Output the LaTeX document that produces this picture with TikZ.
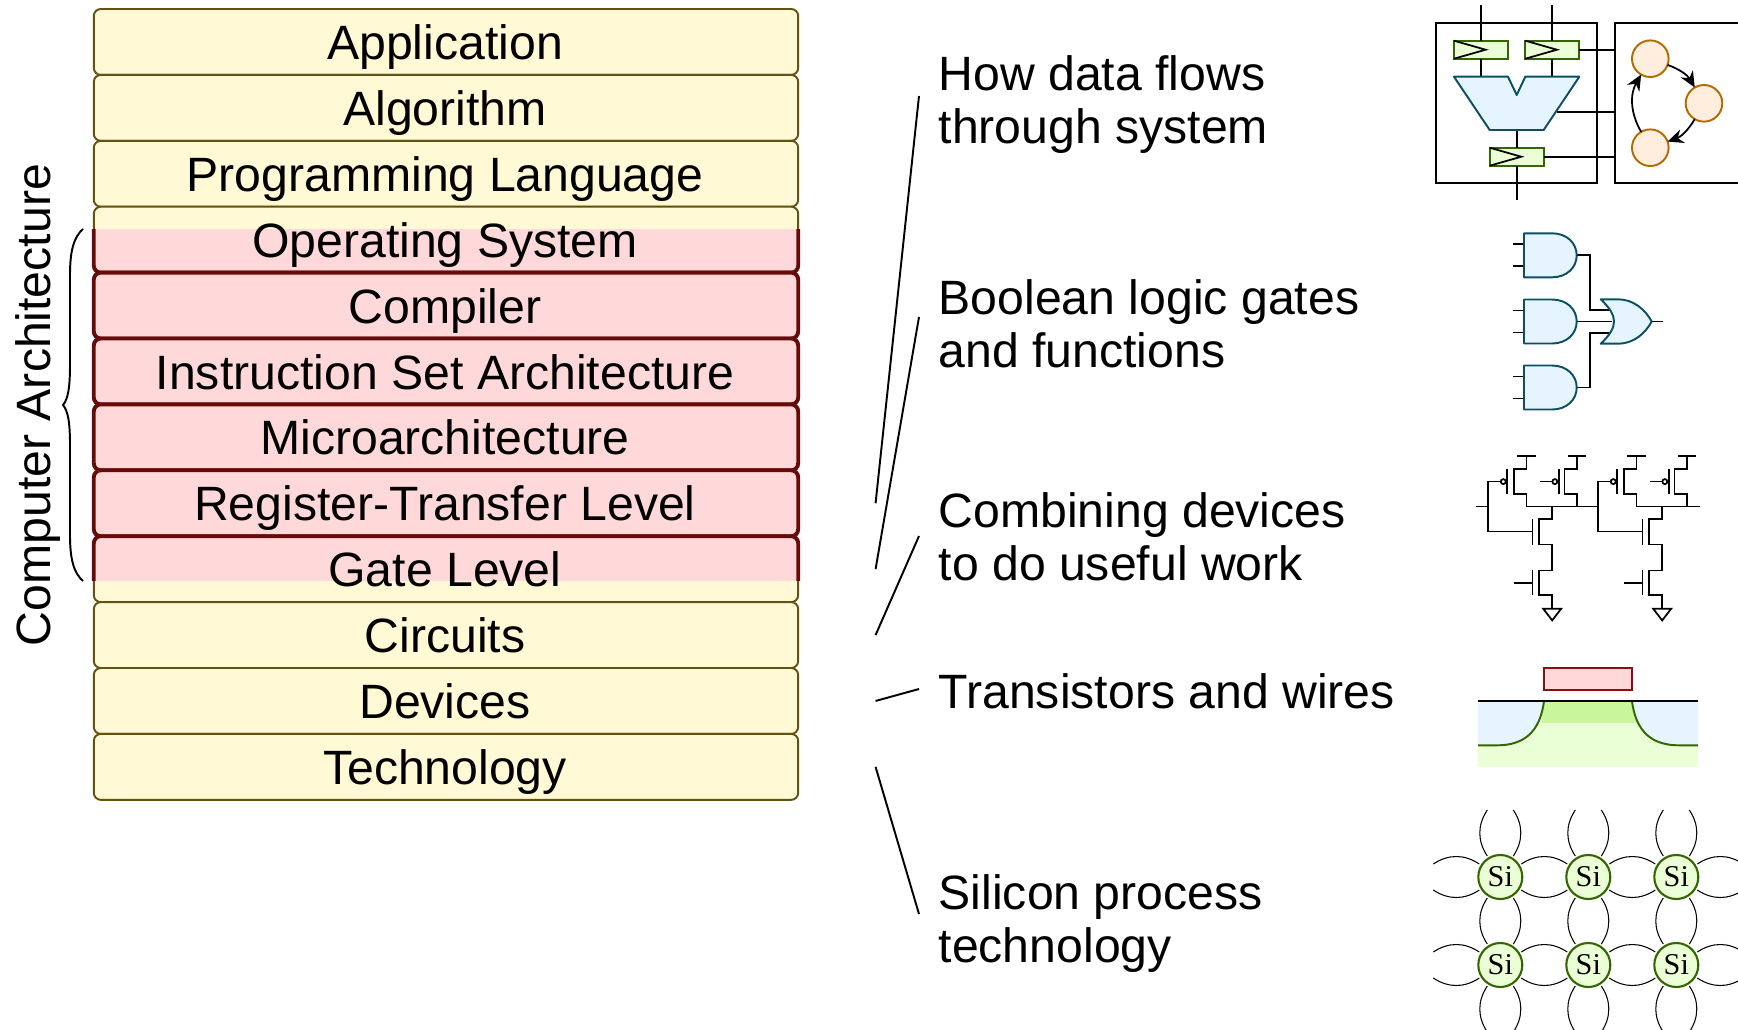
\documentclass[tikz,border=0pt]{standalone}
\usepackage{fontspec}
\setmainfont{Liberation Sans}
\newfontfamily\atomfont{Liberation Serif}
\usepackage{tikz}
\usetikzlibrary{arrows.meta}

\definecolor{layeryellow}{HTML}{FFF9D6}
\definecolor{layerolive}{HTML}{665210}
\definecolor{layerpink}{HTML}{FFD9D9}
\definecolor{layermaroon}{HTML}{660A0A}
\definecolor{iconblue}{HTML}{E6F4FF}
\definecolor{icontealdark}{HTML}{0B4F60}
\definecolor{icongreen}{HTML}{EAFFD5}
\definecolor{iconchannel}{HTML}{C9F59C}
\definecolor{icongreendark}{HTML}{336600}
\definecolor{iconorange}{HTML}{FFEEDD}
\definecolor{iconbrown}{HTML}{B36B00}
\definecolor{iconred}{HTML}{8B0F0F}

\tikzset{
  bigtext/.style={font=\fontsize{13.7}{15.05}\selectfont},
  layerbox/.style={rectangle, rounded corners=2pt, minimum width=7.04cm, minimum height=0.659cm, inner sep=0pt, outer sep=0pt},
  yellowbox/.style={layerbox, draw=layerolive, fill=layeryellow, line width=0.55pt},
  pinkbox/.style={layerbox, draw=layermaroon, fill=layerpink, line width=1.1pt},
  layertext/.style={bigtext, anchor=base, inner sep=0pt},
  sidetext/.style={bigtext, anchor=base west, align=left, inner sep=0pt},
  pointer/.style={line width=0.55pt},
  wire/.style={line width=0.5pt},
  regbox/.style={rectangle, draw=icongreendark, fill=icongreen, line width=0.55pt, minimum width=0.54cm, minimum height=0.18cm, inner sep=0pt, outer sep=0pt},
  fsmstate/.style={circle, draw=iconbrown, fill=iconorange, line width=0.55pt, minimum size=0.366cm, inner sep=0pt, outer sep=0pt},
  gatefill/.style={draw=icontealdark, fill=iconblue, line width=0.55pt, line join=round},
  siatom/.style={circle, draw=icongreendark, fill=icongreen, line width=0.6pt, minimum size=0.44cm, inner sep=0pt, outer sep=0pt, font=\atomfont\fontsize{8.6}{9}\selectfont},
  bond/.style={line width=0.3pt},
}

\begin{document}
\begin{tikzpicture}[x=0.01cm, y=-0.01cm]

  \useasboundingbox (0,0) rectangle (1738,1029);

  %% Layers
  \foreach \i in {0,...,11}
    \node[yellowbox] (layer\i) at (446,41.95+65.9*\i) {};

  \begin{scope}
    \clip (60,229) rectangle (830,580.7);
    \foreach \i in {3,...,8}
      \node[pinkbox] (pink\i) at (446,41.95+65.9*\i) {};
  \end{scope}

  \foreach \i/\lbl in {0/Application, 1/Algorithm, 2/Programming Language, 3/Operating System, 4/Compiler, 5/Instruction Set Architecture, 6/Microarchitecture, 7/Register-Transfer Level, 8/Gate Level, 9/Circuits, 10/Devices, 11/Technology}
    \node[layertext] (label\i) at (445,59.5+65.9*\i) {\lbl};

  %% Brace
  \node[bigtext, rotate=90, anchor=base, inner sep=0pt] (archlabel) at (51,405) {Computer Architecture};
  \draw[pointer] (83,229) .. controls (74,237) and (70,250) .. (70,275) -- (70,365) .. controls (70,388) and (68,399) .. (63,405) .. controls (68,411) and (70,422) .. (70,445) -- (70,535) .. controls (70,560) and (74,573) .. (83,581);

  %% Side labels
  \node[sidetext] (flows) at (938,143) {How data flows\\through system};
  \node[sidetext] (logic) at (938,367) {Boolean logic gates\\and functions};
  \node[sidetext] (devices) at (938,580) {Combining devices\\to do useful work};
  \node[sidetext] (wires) at (938,708) {Transistors and wires};
  \node[sidetext] (silicon) at (938,962) {Silicon process\\technology};

  \coordinate (flowsend) at (919,96);
  \coordinate (logicend) at (919,317);
  \coordinate (devicesend) at (919,536);
  \coordinate (wiresend) at (919,689);
  \coordinate (siliconend) at (919,914);

  \draw[pointer] ([xshift=22]layer7.east)--(flowsend);
  \draw[pointer] ([xshift=22]layer8.east)--(logicend);
  \draw[pointer] ([xshift=22]layer9.east)--(devicesend);
  \draw[pointer] ([xshift=22]layer10.east)--(wiresend);
  \draw[pointer] ([xshift=22]layer11.east)--(siliconend);

  %% Datapath icon
  \draw[wire] (1436,23) rectangle (1597,183);
  \draw[wire] (1745,23) -- (1614.7,23) -- (1614.7,183) -- (1745,183);

  \node[regbox] (regone) at (1481,49.7) {};
  \node[regbox] (regtwo) at (1552.3,49.7) {};
  \node[regbox] (regout) at (1516.7,156.7) {};
  \foreach \r in {regone,regtwo,regout}
    \draw[wire] (\r.north west) -- ([xshift=9]\r.west) -- (\r.south west);

  \coordinate (topone) at (1481,5.3);
  \coordinate (toptwo) at (1552.3,5.3);
  \coordinate (bottomout) at (1516.7,200);
  \coordinate (aluone) at (1481,76.7);
  \coordinate (alutwo) at (1552.3,76.7);
  \coordinate (alubottom) at (1516.7,130);
  \coordinate (aluside) at (1556.7,112.3);
  \coordinate (rightside) at (1614.7,112.3);

  \draw[wire] (topone) -- (regone);
  \draw[wire] (toptwo) -- (regtwo);
  \draw[wire] (regone) -- (aluone);
  \draw[wire] (regtwo) -- (alutwo);
  \draw[wire] (alubottom) -- (regout);
  \draw[wire] (regout) -- (bottomout);
  \draw[wire] (regtwo.east) -- (regtwo.east -| rightside);
  \draw[wire] (regout.east) -- (regout.east -| rightside);
  \draw[wire] (aluside) -- (rightside);

  \draw[gatefill] (1454,76.7) -- (1508,76.7) -- (1516.7,95) -- (1525.3,76.7) -- (1579.3,76.7) -- (1543.7,130) -- (1489.7,130) -- cycle;

  \node[fsmstate] (stateone) at (1650.3,58.7) {};
  \node[fsmstate] (statetwo) at (1704,103.3) {};
  \node[fsmstate] (statethree) at (1650.3,147.7) {};
  \draw[wire, -{Stealth[length=4.5pt,width=4pt]}] (stateone) to[bend left=20] (statetwo);
  \draw[wire, -{Stealth[length=4.5pt,width=4pt]}] (statetwo) to[bend left=20] (statethree);
  \draw[wire, -{Stealth[length=4.5pt,width=4pt]}] (statethree) to[bend left=30] (stateone);

  %% Logic gates icon
  \coordinate (orinone) at (1612,310.3);
  \coordinate (orintwo) at (1612,321.5);
  \coordinate (orinthree) at (1612,332.7);
  \foreach \n/\y in {1/255.3,2/321.5,3/387.5} {
    \coordinate (andout\n) at (1576.7,\y);
    \draw[wire] (1513.3,\y-11) -- (1524,\y-11);
    \draw[wire] (1513.3,\y+11) -- (1524,\y+11);
  }
  \draw[wire] (andout1) -- ++(13.3,0) |- (orinone);
  \draw[wire] (andout2) -- (orintwo);
  \draw[wire] (andout3) -- ++(13.3,0) |- (orinthree);
  \foreach \y in {255.3,321.5,387.5}
    \draw[gatefill] (1524,\y-22) -- (1552,\y-22) .. controls (1567,\y-22) and (1576.7,\y-12) .. (1576.7,\y) .. controls (1576.7,\y+12) and (1567,\y+22) .. (1552,\y+22) -- (1524,\y+22) -- cycle;
  \draw[gatefill] (1600.7,299.3) -- (1618,299.3) .. controls (1633,299.3) and (1645,309) .. (1651.7,321.5) .. controls (1645,334) and (1633,343.7) .. (1618,343.7) -- (1600.7,343.7) .. controls (1610,335) and (1614,328) .. (1614,321.5) .. controls (1614,315) and (1610,308) .. (1600.7,299.3) -- cycle;
  \draw[wire] (1651.7,321.5) -- (1662.7,321.5);

  %% Transistor circuit icon
  \foreach \sx in {0,110} {
    \begin{scope}[shift={(1460+\sx,440)}, x=0.003333cm, y=-0.003333cm]
      \draw[wire] (48,200) -- (85,200);
      \draw[wire] (122,125) -- (85,125) -- (85,275) -- (218,275);
      \draw[wire] (130,125) circle (7.5);
      \draw[wire] (142,88) -- (142,162);
      \draw[wire] (172,48) -- (228,48);
      \draw[wire] (200,48) -- (200,88) -- (162,88) -- (162,162) -- (200,162) -- (200,200) -- (390,200);
      \draw[wire] (240,125) -- (277,125);
      \draw[wire] (285,125) circle (7.5);
      \draw[wire] (298,88) -- (298,162);
      \draw[wire] (325,48) -- (380,48);
      \draw[wire] (352,48) -- (352,88) -- (314,88) -- (314,162) -- (352,162) -- (352,200);
      \draw[wire] (218,238) -- (218,314);
      \draw[wire] (276,200) -- (276,238) -- (238,238) -- (238,314) -- (276,314) -- (276,392) -- (238,392) -- (238,466) -- (276,466) -- (276,505);
      \draw[wire] (218,392) -- (218,466);
      \draw[wire] (162,430) -- (218,430);
      \draw[wire] (250,507) -- (304,507) -- (277,542) -- cycle;
    \end{scope}
  }

  %% Device cross section icon
  \fill[icongreen] (1478,701) rectangle (1698,766.7);
  \fill[iconchannel] (1541.7,701) rectangle (1635.7,722.7);
  \fill[iconblue] (1478,701) -- (1544,701) .. controls (1540,733) and (1523,745.3) .. (1497,745.3) -- (1478,745.3) -- cycle;
  \fill[iconblue] (1698,701) -- (1632,701) .. controls (1636,733) and (1653,745.3) .. (1679,745.3) -- (1698,745.3) -- cycle;
  \draw[line width=0.55pt, icongreendark] (1544,701) .. controls (1540,733) and (1523,745.3) .. (1497,745.3) -- (1478,745.3);
  \draw[line width=0.55pt, icongreendark] (1632,701) .. controls (1636,733) and (1653,745.3) .. (1679,745.3) -- (1698,745.3);
  \draw[line width=0.7pt] (1478,701) -- (1698,701);
  \draw[line width=0.55pt, draw=iconred, fill=layerpink] (1543.7,668) rectangle (1632,690.3);

  %% Silicon lattice icon
  \foreach \x in {1412.3,1500.3,1588.3,1676.3}
    \foreach \y in {877,965} {
      \draw[bond] (\x,\y) ++(21,-13) .. controls +(15,-10) and +(-15,-10) .. ++(46,0);
      \draw[bond] (\x,\y) ++(21,13) .. controls +(15,10) and +(-15,10) .. ++(46,0);
    }
  \foreach \x in {1500.3,1588.3,1676.3}
    \foreach \y in {789,877,965} {
      \draw[bond] (\x,\y) ++(-13,21) .. controls +(-10,15) and +(-10,-15) .. ++(0,46);
      \draw[bond] (\x,\y) ++(13,21) .. controls +(10,15) and +(10,-15) .. ++(0,46);
    }
  \foreach \n/\x/\y in {a/1500.3/877,b/1588.3/877,c/1676.3/877,d/1500.3/965,e/1588.3/965,f/1676.3/965}
    \node[siatom] (si\n) at (\x,\y) {Si};

\end{tikzpicture}
\end{document}
